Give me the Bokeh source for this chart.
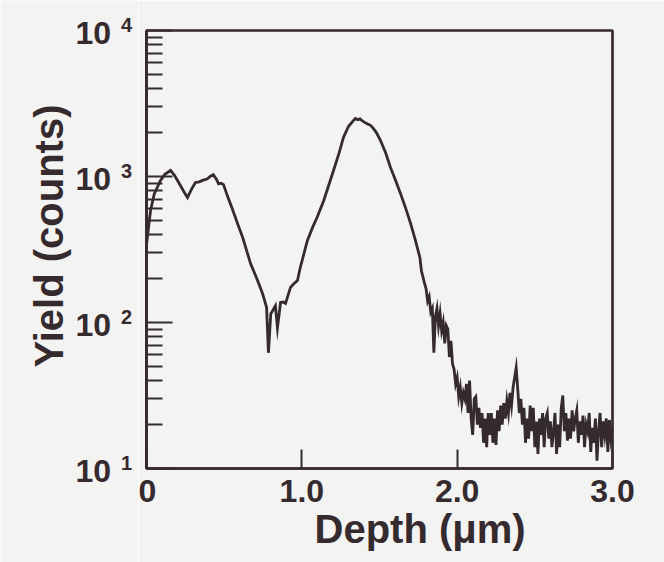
import math
from bokeh.plotting import figure
from bokeh.layouts import row
from bokeh.models import Range1d, FixedTicker, Title
from bokeh.core.properties import value
from bokeh.embed import file_html
from bokeh.resources import INLINE

# ---------------- data ----------------
depth_main = [0.00, 0.01, 0.026, 0.05, 0.09, 0.12, 0.155, 0.18, 0.21, 0.24, 0.264, 0.29,
              0.315, 0.34, 0.36, 0.39, 0.41, 0.43, 0.45, 0.464, 0.48, 0.496, 0.52, 0.55,
              0.586, 0.62, 0.67, 0.71, 0.747, 0.773, 0.785, 0.80, 0.811, 0.83, 0.843,
              0.863, 0.88, 0.895, 0.927, 0.95, 0.972, 0.99, 1.036, 1.07, 1.10, 1.14,
              1.17, 1.204, 1.24, 1.268, 1.30, 1.333, 1.345, 1.36, 1.375, 1.39, 1.41,
              1.423, 1.44, 1.455, 1.48, 1.506, 1.54, 1.571, 1.60, 1.635, 1.67, 1.70,
              1.73, 1.76]
yield_main = [340, 420, 585, 760, 940, 1040, 1100, 1020, 900, 790, 718, 820,
              910, 920, 940, 960, 1000, 1030, 960, 890, 900, 880, 740, 610,
              477, 380, 253, 200, 158, 127, 62, 115, 120, 130, 92,
              137, 138, 135, 174, 185, 194, 238, 365, 450, 530, 680,
              850, 1100, 1450, 1850, 2200, 2420, 2500, 2450, 2480, 2400, 2330,
              2290, 2250, 2170, 2000, 1770, 1450, 1150, 960, 766, 600, 477,
              370, 279]

# noisy tail, 1.77 ... 3.00 in steps of 0.01
depth_tail = [round(1.77 + 0.01 * i, 2) for i in range(124)]
yield_tail = [225, 205, 185, 170, 140, 150, 118, 125, 62, 110,
              125, 95, 115, 88, 100, 72, 95, 90, 58, 75,
              52, 48, 38, 42, 31, 36, 28, 33, 30, 38,
              24, 40, 22, 17, 30, 31, 20, 26, 19, 24,
              15, 22, 14, 24, 17, 24, 15, 22, 14.5, 25,
              18, 27, 20, 28, 22, 29, 24, 33, 27, 36,
              42, 49, 35, 24, 30, 20, 26, 15, 22, 16,
              27, 18, 26, 14, 21, 12.6, 22, 17, 24, 14,
              22, 24, 16, 21, 14, 18, 24, 12.6, 20, 14,
              26, 31.6, 18, 24, 15.5, 22, 16, 25, 18, 22,
              25, 15, 21, 17, 23, 14, 20, 18, 24, 13,
              19, 15, 22, 11.3, 18, 24, 14, 21, 17, 22,
              13, 21.5, 16, 19]

depth = depth_main + depth_tail
yield_counts = yield_main + yield_tail

x_ticks = [0, 1, 2, 3]
x_tick_labels = ["0", "1.0", "2.0", "3.0"]
y_ticks = [10, 100, 1000, 10000]
y_tick_base = ["10", "10", "10", "10"]
y_tick_exp = ["1", "2", "3", "4"]
y_minor_ticks = [20, 30, 40, 50, 60, 70, 80, 90,
                 200, 300, 400, 500, 600, 700, 800, 900,
                 2000, 3000, 4000, 5000, 6000, 7000, 8000, 9000]

x_title = "Depth (\u03bcm)"
y_title = "Yield (counts)"

# ---------------- style / layout ----------------
INK = "#352a2d"
BG = "#f3f3f2"
FONT = "Liberation Sans"
W, H = 664, 562
LEFT_W = 138            # width of the strip that holds the y labels
FRAME_LEFT, FRAME_TOP, FRAME_RIGHT_PAD, FRAME_BOTTOM_PAD = 146, 30, 52, 94
Y_LO, Y_HI = 10, 10000

# main plot
p = figure(width=W - LEFT_W, height=H, x_range=Range1d(0, 3), y_range=Range1d(Y_LO, Y_HI),
           y_axis_type="log", output_backend="svg", toolbar_location=None,
           min_border_left=FRAME_LEFT - LEFT_W, min_border_right=FRAME_RIGHT_PAD,
           min_border_top=FRAME_TOP, min_border_bottom=FRAME_BOTTOM_PAD)
p.background_fill_color = BG
p.border_fill_color = BG
p.grid.visible = False
p.outline_line_color = INK
p.outline_line_width = 2.7
p.outline_line_alpha = 1.0

p.line(depth, yield_counts, line_color=INK, line_width=2.8, line_join="miter")

xa = p.xaxis[0]
xa.ticker = FixedTicker(ticks=x_ticks)
xa.major_label_overrides = {t: s for t, s in zip(x_ticks, x_tick_labels)}
xa.major_tick_in = 19
xa.major_tick_out = 0
xa.minor_tick_line_color = None
xa.axis_line_color = INK
xa.axis_line_width = 2.7
xa.major_tick_line_color = INK
xa.major_tick_line_width = 2
xa.major_label_text_font = FONT
xa.major_label_text_font_style = "bold"
xa.major_label_text_font_size = "32px"
xa.major_label_text_color = INK
xa.major_label_standoff = 11

ya = p.yaxis[0]
ya.ticker = FixedTicker(ticks=y_ticks, minor_ticks=y_minor_ticks)
ya.major_label_overrides = {t: "" for t in y_ticks}
ya.major_label_text_font_size = "1px"
ya.major_label_standoff = 0
ya.major_tick_in = 26
ya.major_tick_out = 0
ya.minor_tick_in = 16
ya.minor_tick_out = 0
ya.axis_line_color = INK
ya.axis_line_width = 2.7
ya.major_tick_line_color = INK
ya.major_tick_line_width = 2
ya.minor_tick_line_color = INK
ya.minor_tick_line_width = 2

p.add_layout(Title(text=x_title, align="left", offset=168, standoff=0,
                   text_font=FONT, text_font_style="bold", text_font_size="40px",
                   text_color=INK), "below")

# left strip with the y tick labels and the y title, on the same log scale
can_unalign = "frame_align" in p.properties()
if can_unalign:
    decade_px = (H - FRAME_TOP - FRAME_BOTTOM_PAD) / math.log10(Y_HI / Y_LO)
    strip_lo = 10 ** (math.log10(Y_LO) - FRAME_BOTTOM_PAD / decade_px)
    strip_hi = 10 ** (math.log10(Y_HI) + FRAME_TOP / decade_px)
    borders = dict(min_border_left=0, min_border_right=0, min_border_top=0, min_border_bottom=0)
else:
    strip_lo, strip_hi = Y_LO, Y_HI
    borders = dict(min_border_left=0, min_border_right=0, min_border_top=FRAME_TOP,
                   min_border_bottom=FRAME_BOTTOM_PAD)

s = figure(width=LEFT_W, height=H, x_range=Range1d(0, 1), y_range=Range1d(strip_lo, strip_hi),
           y_axis_type="log", x_axis_location=None, y_axis_location=None,
           output_backend="svg", toolbar_location=None, **borders)
if can_unalign:
    s.frame_align = False
    p.frame_align = False
s.background_fill_color = BG
s.border_fill_color = BG
s.outline_line_color = None
s.grid.visible = False

edge = [1] * len(y_ticks)
s.text(x=edge, y=y_ticks, text=y_tick_base, x_offset=-27.5, y_offset=2,
       text_align="right", text_baseline="middle", text_font=value(FONT),
       text_font_style="bold", text_font_size="32px", text_color=INK)
s.text(x=edge, y=y_ticks, text=y_tick_exp, x_offset=-17.5, y_offset=-6,
       text_align="left", text_baseline="middle", text_font=value(FONT),
       text_font_style="bold", text_font_size="20px", text_color=INK)
s.text(x=[1], y=[y_ticks[0]], text=[y_title], x_offset=-90, y_offset=-101,
       angle=math.pi / 2, text_align="left", text_baseline="alphabetic",
       text_font=value(FONT), text_font_style="bold", text_font_size="40px",
       text_color=INK)

layout = row(s, p, spacing=0)
open("out.html", "w").write(file_html(layout, INLINE))
